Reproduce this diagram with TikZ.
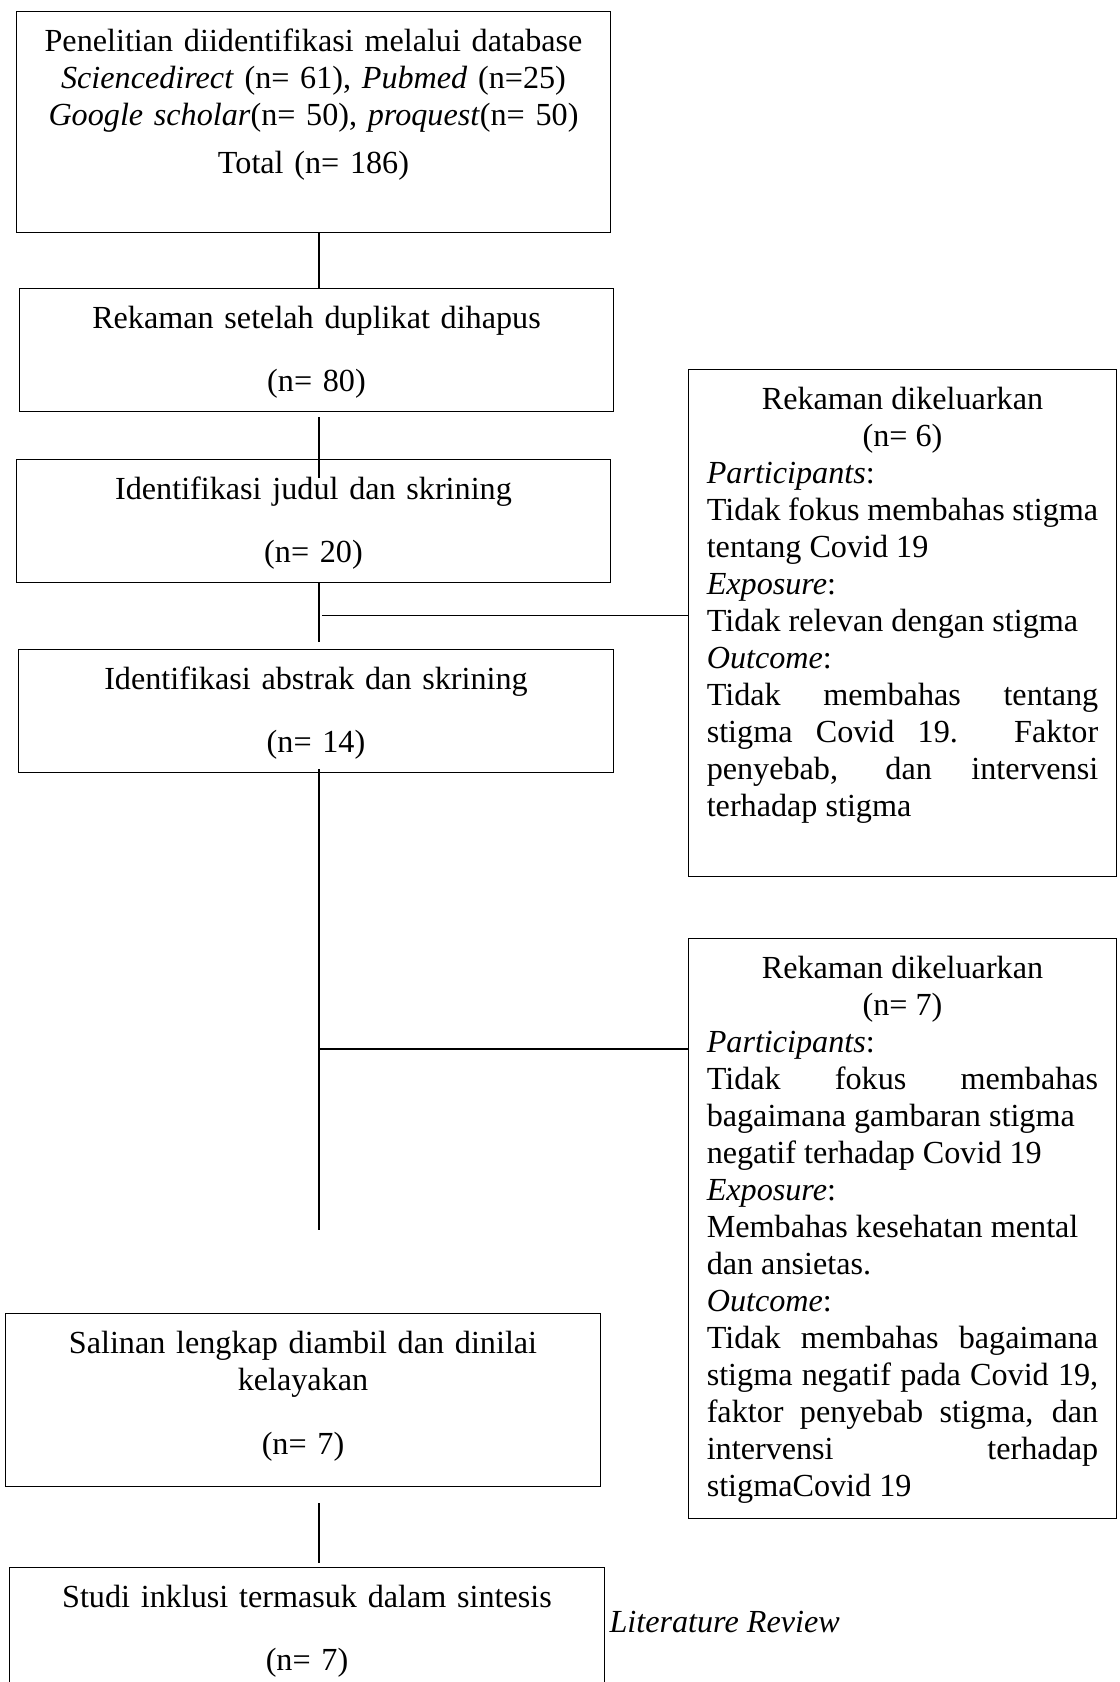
\documentclass[tikz,border=0pt]{standalone}
\usepackage{fontspec}
\setmainfont{Liberation Serif}
\usetikzlibrary{calc}

\begin{document}
\begin{tikzpicture}[x=0.373pt,y=-0.373pt,font=\fontsize{12}{13.8}\selectfont,
  box/.style={draw,anchor=north,inner xsep=4pt,inner ysep=0pt,text height=15pt,text width=213.6pt,align=center},
  side/.style={draw,anchor=north west,inner xsep=6.8pt,inner ysep=0pt,text height=15pt,text width=146pt,align=justify}]
\useasboundingbox (0,0) rectangle (1119,1682);
\coordinate (spine) at (319,0);
% left column
\node[box,text depth=67.4pt] (src) at (313.5,11) {Penelitian diidentifikasi melalui database\\
  \textit{Sciencedirect} (n= 61), \textit{Pubmed} (n=25)\\
  \textit{Google scholar}(n= 50), \textit{proquest}(n= 50)\\[4.1pt]
  Total (n= 186)};
\node[box,text depth=30.9pt] (dup) at (316.5,288) {Rekaman setelah duplikat dihapus\\[9.5pt](n= 80)};
\node[box,text depth=30.9pt] (ttl) at (313.5,459) {Identifikasi judul dan skrining\\[9.5pt](n= 20)};
\node[box,text depth=30.9pt] (abs) at (316,649) {Identifikasi abstrak dan skrining\\[9.5pt](n= 14)};
\node[box,text depth=49.5pt] (full) at (303,1313) {Salinan lengkap diambil dan dinilai\\
  kelayakan\\[10pt](n= 7)};
\node[box,text depth=37.2pt] (inc) at (307,1567) {Studi inklusi termasuk dalam sintesis\\[9.5pt](n= 7)};
\node[anchor=west,inner sep=0pt] (litrev) at (609,1622) {\textit{Literature Review}};
% right column
\node[side,text depth=174.1pt] (exc1) at (688,369) {\makebox[\linewidth]{Rekaman dikeluarkan}\\
  \makebox[\linewidth]{(n= 6)}\\
  \textit{Participants}:\\
  Tidak fokus membahas stigma\linebreak tentang Covid 19\\
  \textit{Exposure}:\\
  Tidak relevan dengan stigma\\
  \textit{Outcome}:\\
  Tidak membahas tentang\linebreak stigma Covid 19. Faktor\linebreak penyebab, dan intervensi\linebreak terhadap stigma};
\node[side,text depth=201.3pt] (exc2) at (688,938) {\makebox[\linewidth]{Rekaman dikeluarkan}\\
  \makebox[\linewidth]{(n= 7)}\\
  \textit{Participants}:\\
  Tidak fokus membahas\linebreak bagaimana gambaran stigma\\
  negatif terhadap Covid 19\\
  \textit{Exposure}:\\
  Membahas kesehatan mental\\
  dan ansietas.\\
  \textit{Outcome}:\\
  Tidak membahas bagaimana\linebreak stigma negatif pada Covid 19,\linebreak faktor penyebab stigma, dan\linebreak intervensi terhadap\linebreak stigmaCovid 19};
% connectors
\draw (src.south -| spine) -- (dup.north -| spine);
\draw ($(dup.south -| spine)+(0,5)$) -- ($(ttl.north -| spine)+(0,19)$);
\draw (ttl.south -| spine) -- ($(abs.north -| spine)+(0,-7)$);
\draw ($(exc1.west)+(0,-7.5)$) -- ($(exc1.west -| spine)+(3,-7.5)$);
\draw ($(abs.south -| spine)+(0,-4)$) -- ($(full.north -| spine)+(0,-83)$);
\draw ($(exc2.north west)+(0,111)$) -- ($(exc2.north west -| spine)+(1,111)$);
\draw ($(full.south -| spine)+(0,16)$) -- ($(inc.north -| spine)+(0,-4)$);
\end{tikzpicture}
\end{document}
